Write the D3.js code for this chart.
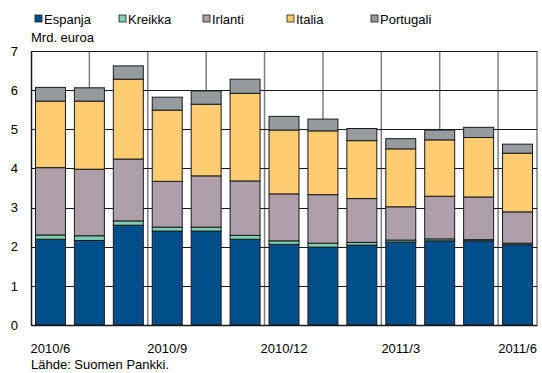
<!DOCTYPE html>
<html>
<head>
<meta charset="utf-8">
<script src="https://cdn.jsdelivr.net/npm/d3@7"></script>
<style>
  html, body { margin: 0; padding: 0; background: #fff; }
  svg { display: block; font-family: "Liberation Sans", Arial, sans-serif; }
</style>
</head>
<body>
<div id="chart"></div>
<script>
// kuukaudet 2010/6 - 2011/6
const months = ['2010/6', '2010/7', '2010/8', '2010/9', '2010/10', '2010/11', '2010/12',
  '2011/1', '2011/2', '2011/3', '2011/4', '2011/5', '2011/6']
const tickLabels = ['2010/6', '2010/9', '2010/12', '2011/3', '2011/6']
const seriesNames = ['Espanja', 'Kreikka', 'Irlanti', 'Italia', 'Portugali']
const seriesColors = ['#004f8b', '#7fcfb4', '#ae9fab', '#ffcc72', '#959b9f']

// Mrd. euroa
const espanja = [2.19, 2.16, 2.55, 2.40, 2.40, 2.19, 2.06, 1.99, 2.04, 2.12, 2.15, 2.15, 2.05]
const kreikka = [0.11, 0.12, 0.11, 0.10, 0.10, 0.10, 0.09, 0.10, 0.07, 0.05, 0.05, 0.03, 0.04]
const irlanti = [1.72, 1.70, 1.58, 1.17, 1.31, 1.39, 1.20, 1.24, 1.12, 0.85, 1.09, 1.09, 0.80]
const italia = [1.70, 1.74, 2.04, 1.82, 1.83, 2.24, 1.63, 1.63, 1.48, 1.48, 1.44, 1.52, 1.50]
const portugali = [0.35, 0.34, 0.34, 0.33, 0.34, 0.36, 0.35, 0.30, 0.31, 0.26, 0.25, 0.26, 0.23]
const yTicks = [0, 1, 2, 3, 4, 5, 6, 7]

const width = 542
const height = 373
const margin = {top: 51, right: 5, bottom: 48, left: 31}
const gWidth = width - margin.left - margin.right
const gHeight = height - margin.top - margin.bottom
// pystyviivat 1,5 kuukauden välein
const gridEvery = 1.5

const rows = months.map((m, i) => ({
  month: m,
  Espanja: espanja[i],
  Kreikka: kreikka[i],
  Irlanti: irlanti[i],
  Italia: italia[i],
  Portugali: portugali[i]
}))
const stacked = d3.stack().keys(seriesNames)(rows)

const x = d3.scaleBand()
  .domain(months)
  .range([0, gWidth])
  .paddingInner(0.23)
  .paddingOuter(0.115)
const y = d3.scaleLinear().domain([0, 7]).range([gHeight, 0])
const color = d3.scaleOrdinal().domain(seriesNames).range(seriesColors)

const svg = d3.select('#chart')
  .append('svg')
  .attr('width', width)
  .attr('height', height)

const g = svg.append('g')
  .attr('transform', `translate(${margin.left}, ${margin.top})`)

// pystysuorat apuviivat
const step = x.step()
const vLines = d3.range(1, Math.floor(gWidth / (step * gridEvery)) + 1)
g.append('g')
  .selectAll('line')
  .data(vLines)
  .join('line')
  .attr('x1', d => d * step * gridEvery)
  .attr('x2', d => d * step * gridEvery)
  .attr('y1', 0)
  .attr('y2', gHeight)
  .style('stroke', '#7f7f7f')
  .style('stroke-width', '1.5px')

// oikea reuna
g.append('line')
  .attr('x1', gWidth).attr('x2', gWidth)
  .attr('y1', 0).attr('y2', gHeight)
  .style('stroke', '#7f7f7f')
  .style('stroke-width', '1.5px')

// vaakasuorat apuviivat
g.append('g')
  .selectAll('line')
  .data(yTicks)
  .join('line')
  .attr('x1', 0)
  .attr('x2', gWidth)
  .attr('y1', d => Math.round(y(d)) + 0.5)
  .attr('y2', d => Math.round(y(d)) + 0.5)
  .style('stroke', '#1a1a1a')
  .style('stroke-width', '1.2px')

// pylväät
g.append('g')
  .selectAll('g')
  .data(stacked)
  .join('g')
  .attr('fill', d => color(d.key))
  .selectAll('rect')
  .data(d => d)
  .join('rect')
  .attr('x', d => x(d.data.month))
  .attr('y', d => y(d[1]))
  .attr('width', x.bandwidth())
  .attr('height', d => y(d[0]) - y(d[1]))
  .style('stroke', '#1a1a1a')
  .style('stroke-width', '1px')

// akselit
const yAxis = d3.axisLeft(y)
  .tickValues(yTicks)
  .tickFormat(d3.format('d'))
  .tickSize(0)
  .tickPadding(13)
g.append('g')
  .call(yAxis)
  .call(s => s.select('.domain').style('stroke', '#1a1a1a').style('stroke-width', '1.5px'))
  .call(s => s.selectAll('text').style('font-size', '13px').style('fill', '#000'))

const xAxis = d3.axisBottom(x)
  .tickValues(tickLabels)
  .tickSize(0)
  .tickPadding(19)
g.append('g')
  .attr('transform', `translate(0, ${gHeight})`)
  .call(xAxis)
  .call(s => s.select('.domain').style('stroke', '#1a1a1a').style('stroke-width', '1.5px'))
  .call(s => s.selectAll('text').style('font-size', '13px').style('fill', '#000'))

// yksikkö ja lähde
svg.append('text')
  .attr('x', margin.left)
  .attr('y', 42)
  .style('font-size', '13px')
  .text('Mrd. euroa')
svg.append('text')
  .attr('x', margin.left)
  .attr('y', 369)
  .style('font-size', '13px')
  .text('Lähde: Suomen Pankki.')

// selite
const legendX = d3.scalePoint()
  .domain(seriesNames)
  .range([35, 371])
const legend = svg.append('g')
  .selectAll('g')
  .data(seriesNames)
  .join('g')
  .attr('transform', d => `translate(${legendX(d)}, 13)`)
legend.append('rect')
  .attr('width', 7)
  .attr('height', 7)
  .attr('y', 2)
  .attr('fill', d => color(d))
  .style('stroke', '#1a1a1a')
  .style('stroke-width', '0.8px')
legend.append('text')
  .attr('x', 9)
  .attr('y', 11)
  .style('font-size', '13px')
  .text(d => d)
</script>
</body>
</html>
